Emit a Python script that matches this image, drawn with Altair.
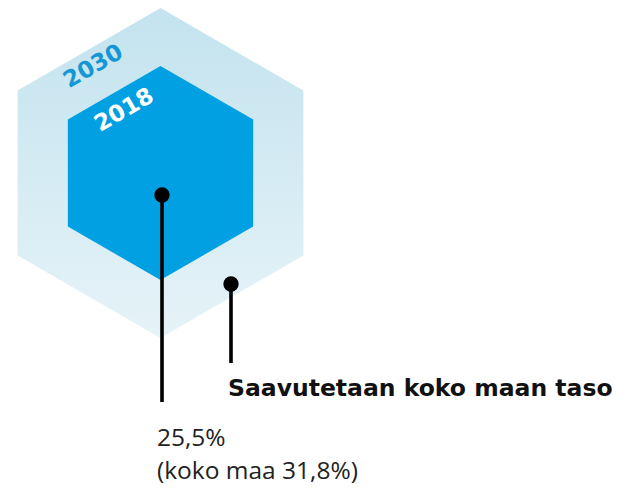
import math
import altair as alt
import pandas as pd

# ---- data ----
years = ["2030", "2018"]
share_2018 = 25.5
share_country = 31.8
target_label = "Saavutetaan koko maan taso"
value_label = "25,5%"
country_label = "(koko maa 31,8%)"

# ---- layout / style (page pixel coordinates) ----
W, H = 606, 481
CX, CY = 160.5, 173.0
HEX_R = [165, 107]            # outer (2030), inner (2018)
HEX_PATH = "M0,-1L0.866,-0.5L0.866,0.5L0,1L-0.866,0.5L-0.866,-0.5Z"

xs = alt.Scale(domain=[8, 8 + W], nice=False, zero=False)
ys = alt.Scale(domain=[8, 8 + H], nice=False, zero=False, reverse=True)


def X(field):
    return alt.X(field, scale=xs, axis=None)


def Y(field):
    return alt.Y(field, scale=ys, axis=None)


hex_df = pd.DataFrame({
    "year": years,
    "x": [CX, CX],
    "y": [CY, CY],
    "size": [(2 * r) ** 2 for r in HEX_R],
})

outer_grad = alt.Gradient(
    gradient="linear",
    stops=[alt.GradientStop(color="#c3e3ee", offset=0),
           alt.GradientStop(color="#e6f3f8", offset=1)],
    x1=0, x2=0, y1=0, y2=1,
)

outer = alt.Chart(hex_df[hex_df.year == "2030"]).mark_point(
    shape=HEX_PATH, filled=True, fill=outer_grad, strokeWidth=0, opacity=1
).encode(x=X("x:Q"), y=Y("y:Q"), size=alt.Size("size:Q", scale=None, legend=None))

inner = alt.Chart(hex_df[hex_df.year == "2018"]).mark_point(
    shape=HEX_PATH, filled=True, fill="#00a0e2", strokeWidth=0, opacity=1
).encode(x=X("x:Q"), y=Y("y:Q"), size=alt.Size("size:Q", scale=None, legend=None))


# year labels placed along the upper-left edge of each hexagon
def edge_label_pos(r, along, inset):
    lx, ly = CX - r * math.cos(math.pi / 6), CY - r / 2
    tx, ty = CX, CY - r
    px, py = lx + (tx - lx) * along, ly + (ty - ly) * along
    return px + inset * 0.5, py + inset * 0.866


yl = []
for yr, r, along, inset in zip(years, HEX_R, [0.47, 0.5], [17, 20]):
    px, py = edge_label_pos(r, along, inset)
    yl.append({"year": yr, "x": px, "y": py})
yl_df = pd.DataFrame(yl)

lab2030 = alt.Chart(yl_df[yl_df.year == "2030"]).mark_text(
    font="DejaVu Sans", fontWeight="bold", fontSize=23, angle=330,
    align="center", baseline="middle", color="#1597d6"
).encode(x=X("x:Q"), y=Y("y:Q"), text="year:N")

lab2018 = alt.Chart(yl_df[yl_df.year == "2018"]).mark_text(
    font="DejaVu Sans", fontWeight="bold", fontSize=23, angle=330,
    align="center", baseline="middle", color="#ffffff"
).encode(x=X("x:Q"), y=Y("y:Q"), text="year:N")

# pins (dot + stem)
pins = pd.DataFrame({
    "name": ["2018", "2030"],
    "x": [162, 231],
    "y": [195, 284],
    "y2": [402, 363],
})

stems = alt.Chart(pins).mark_rule(color="#000000", strokeWidth=3.6).encode(
    x=X("x:Q"), y=Y("y:Q"), y2="y2:Q"
)
dots = alt.Chart(pins).mark_circle(color="#000000", opacity=1, size=235).encode(
    x=X("x:Q"), y=Y("y:Q")
)

texts = pd.DataFrame({
    "t": [target_label, value_label, country_label],
    "x": [228, 157, 157],
    "y": [396, 446, 479],
})

bold_txt = alt.Chart(texts.iloc[[0]]).mark_text(
    font="DejaVu Sans", fontWeight="bold", fontSize=23.5,
    align="left", baseline="alphabetic", color="#111111"
).encode(x=X("x:Q"), y=Y("y:Q"), text="t:N")

reg_txt = alt.Chart(texts.iloc[[1, 2]]).mark_text(
    font="Open Sans", fontSize=24.5,
    align="left", baseline="alphabetic", color="#222222"
).encode(x=X("x:Q"), y=Y("y:Q"), text="t:N")

chart = alt.layer(
    outer, inner, lab2030, lab2018, stems, dots, bold_txt, reg_txt
).properties(
    width=W, height=H, padding=0, autosize=alt.AutoSizeParams(type="none"),
    view=alt.ViewBackground(stroke="#ffffff", strokeWidth=0, strokeOpacity=0),
).configure_view(strokeWidth=0, strokeOpacity=0).configure_axis(
    grid=False, domain=False, ticks=False, labels=False
).configure(background="#ffffff")

chart.save("out.html", embed_options={"renderer": "svg", "actions": False})
